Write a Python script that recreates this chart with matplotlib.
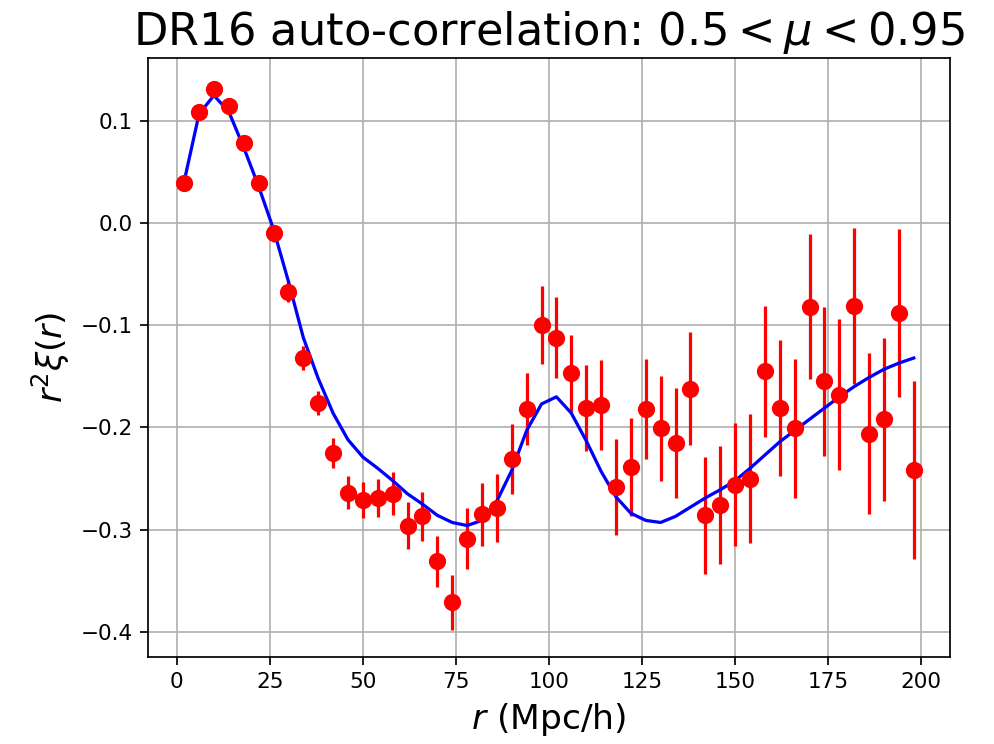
import numpy as np
from matplotlib import pyplot as plt

r = np.arange(2, 200, 4)

xi_data = [0.039, 0.109, 0.131, 0.115, 0.078, 0.039, -0.010, -0.067,
           -0.132, -0.176, -0.225, -0.264, -0.271, -0.269, -0.265, -0.296,
           -0.287, -0.331, -0.371, -0.309, -0.285, -0.279, -0.231, -0.182,
           -0.100, -0.112, -0.147, -0.181, -0.178, -0.258, -0.239, -0.182,
           -0.201, -0.215, -0.162, -0.286, -0.276, -0.256, -0.250, -0.145,
           -0.181, -0.201, -0.082, -0.155, -0.168, -0.081, -0.206, -0.192,
           -0.088, -0.242]

xi_err = [0.003, 0.004, 0.004, 0.005, 0.006, 0.007, 0.008, 0.010,
          0.012, 0.012, 0.015, 0.016, 0.018, 0.019, 0.021, 0.023,
          0.024, 0.025, 0.027, 0.030, 0.031, 0.033, 0.034, 0.035,
          0.038, 0.040, 0.038, 0.042, 0.044, 0.047, 0.048, 0.049,
          0.051, 0.054, 0.055, 0.057, 0.058, 0.060, 0.063, 0.064,
          0.067, 0.068, 0.071, 0.073, 0.074, 0.076, 0.079, 0.080,
          0.082, 0.087]

xi_model = [0.041, 0.107, 0.125, 0.109, 0.074, 0.036, -0.006, -0.057,
            -0.112, -0.152, -0.186, -0.212, -0.229, -0.240, -0.252, -0.265,
            -0.275, -0.286, -0.293, -0.296, -0.291, -0.272, -0.242, -0.203,
            -0.177, -0.170, -0.186, -0.213, -0.243, -0.268, -0.284, -0.291,
            -0.293, -0.287, -0.278, -0.269, -0.261, -0.252, -0.240, -0.227,
            -0.214, -0.203, -0.192, -0.181, -0.170, -0.160, -0.151, -0.143,
            -0.137, -0.132]

fig = plt.figure(figsize=(994/155, 744/155), dpi=155)
plt.subplots_adjust(left=0.1486, right=0.956, top=0.922, bottom=0.117)

plt.errorbar(r, xi_data, yerr=xi_err, fmt='ro', ms=7)
plt.plot(r, xi_model, 'b-')
plt.grid()

plt.title(r'DR16 auto-correlation: $0.5 < \mu < 0.95$', fontsize=20.8)
plt.xlabel(r'$r$ (Mpc/h)', fontsize=16)
plt.ylabel(r'$r^2\xi(r)$', fontsize=16)

plt.savefig('out.png', dpi=155)
